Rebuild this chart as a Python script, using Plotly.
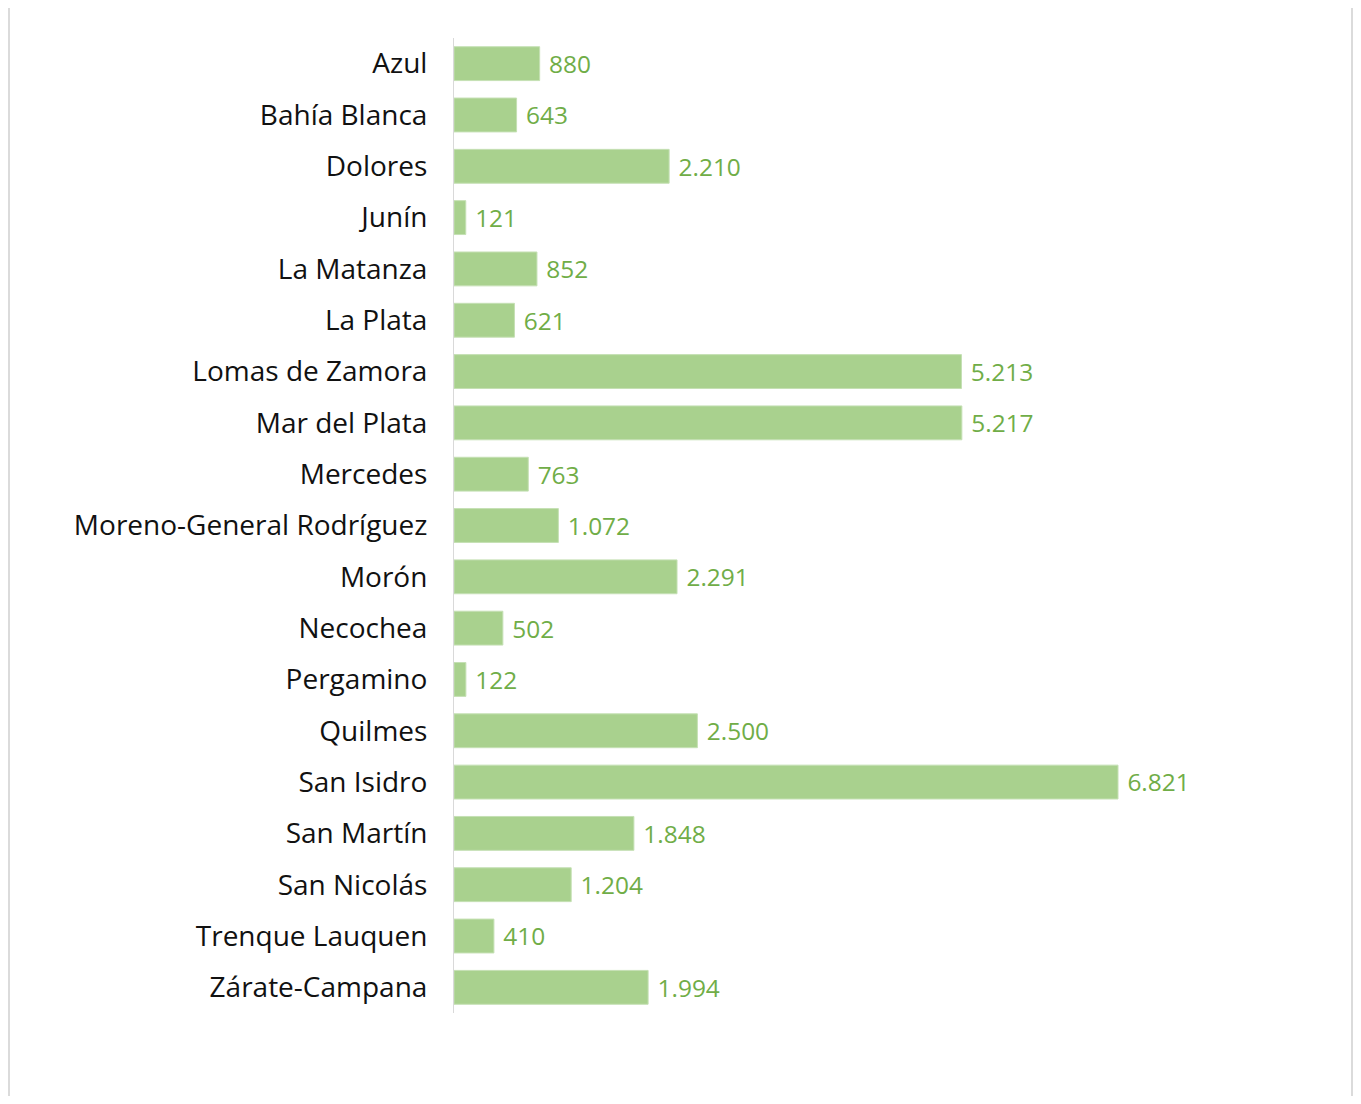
import plotly.graph_objects as go

categories = ["Azul", "Bahía Blanca", "Dolores", "Junín", "La Matanza", "La Plata",
              "Lomas de Zamora", "Mar del Plata", "Mercedes", "Moreno-General Rodríguez",
              "Morón", "Necochea", "Pergamino", "Quilmes", "San Isidro", "San Martín",
              "San Nicolás", "Trenque Lauquen", "Zárate-Campana"]
values = [880, 643, 2210, 121, 852, 621, 5213, 5217, 763, 1072, 2291, 502, 122, 2500,
          6821, 1848, 1204, 410, 1994]
value_labels = ["880", "643", "2.210", "121", "852", "621", "5.213", "5.217", "763", "1.072",
                "2.291", "502", "122", "2.500", "6.821", "1.848", "1.204", "410", "1.994"]

OFF = 8  # page body margin
W, H = 1361 - 2 * OFF, 1104 - 2 * OFF
L, T = 454 - OFF, 38 - OFF
plot_bottom = 1013 - OFF
R = 61 - OFF
B = H - plot_bottom
pw = W - L - R
ph = H - T - B
px_per_unit = (1118 - 454) / 6821
xmax = pw / px_per_unit

fig = go.Figure(go.Bar(
    y=categories, x=values, orientation="h",
    marker=dict(color="#a9d18e", line=dict(color="#c5e0b4", width=1)),
    width=0.66,
    text=["\u00a0" + s for s in value_labels],
    textposition="outside",
    textfont=dict(family="Open Sans", size=26, color="#70ad47"),
    cliponaxis=False,
))

def fx(p):
    return (p - L) / pw

def py(p):
    return (plot_bottom - (p - OFF)) / ph

shapes = []
for xf in (1.0, W - 1.0):
    shapes.append(dict(type="line", xref="paper", yref="paper",
                       x0=fx(xf), x1=fx(xf), y0=py(0), y1=py(1104),
                       line=dict(color="#cfcfcf", width=1.5)))

fig.update_layout(
    width=W, height=H,
    margin=dict(l=L, r=R, t=T, b=B),
    paper_bgcolor="white", plot_bgcolor="white",
    showlegend=False,
    shapes=shapes,
    xaxis=dict(range=[0, xmax], visible=False, showgrid=False, zeroline=False),
    yaxis=dict(autorange="reversed", showline=True, linecolor="#d9d9d9", linewidth=1,
               ticks="", ticklabelstandoff=20, showgrid=False,
               tickfont=dict(family="Open Sans", size=28, color="#111111")),
)

fig.write_html("out.html")
